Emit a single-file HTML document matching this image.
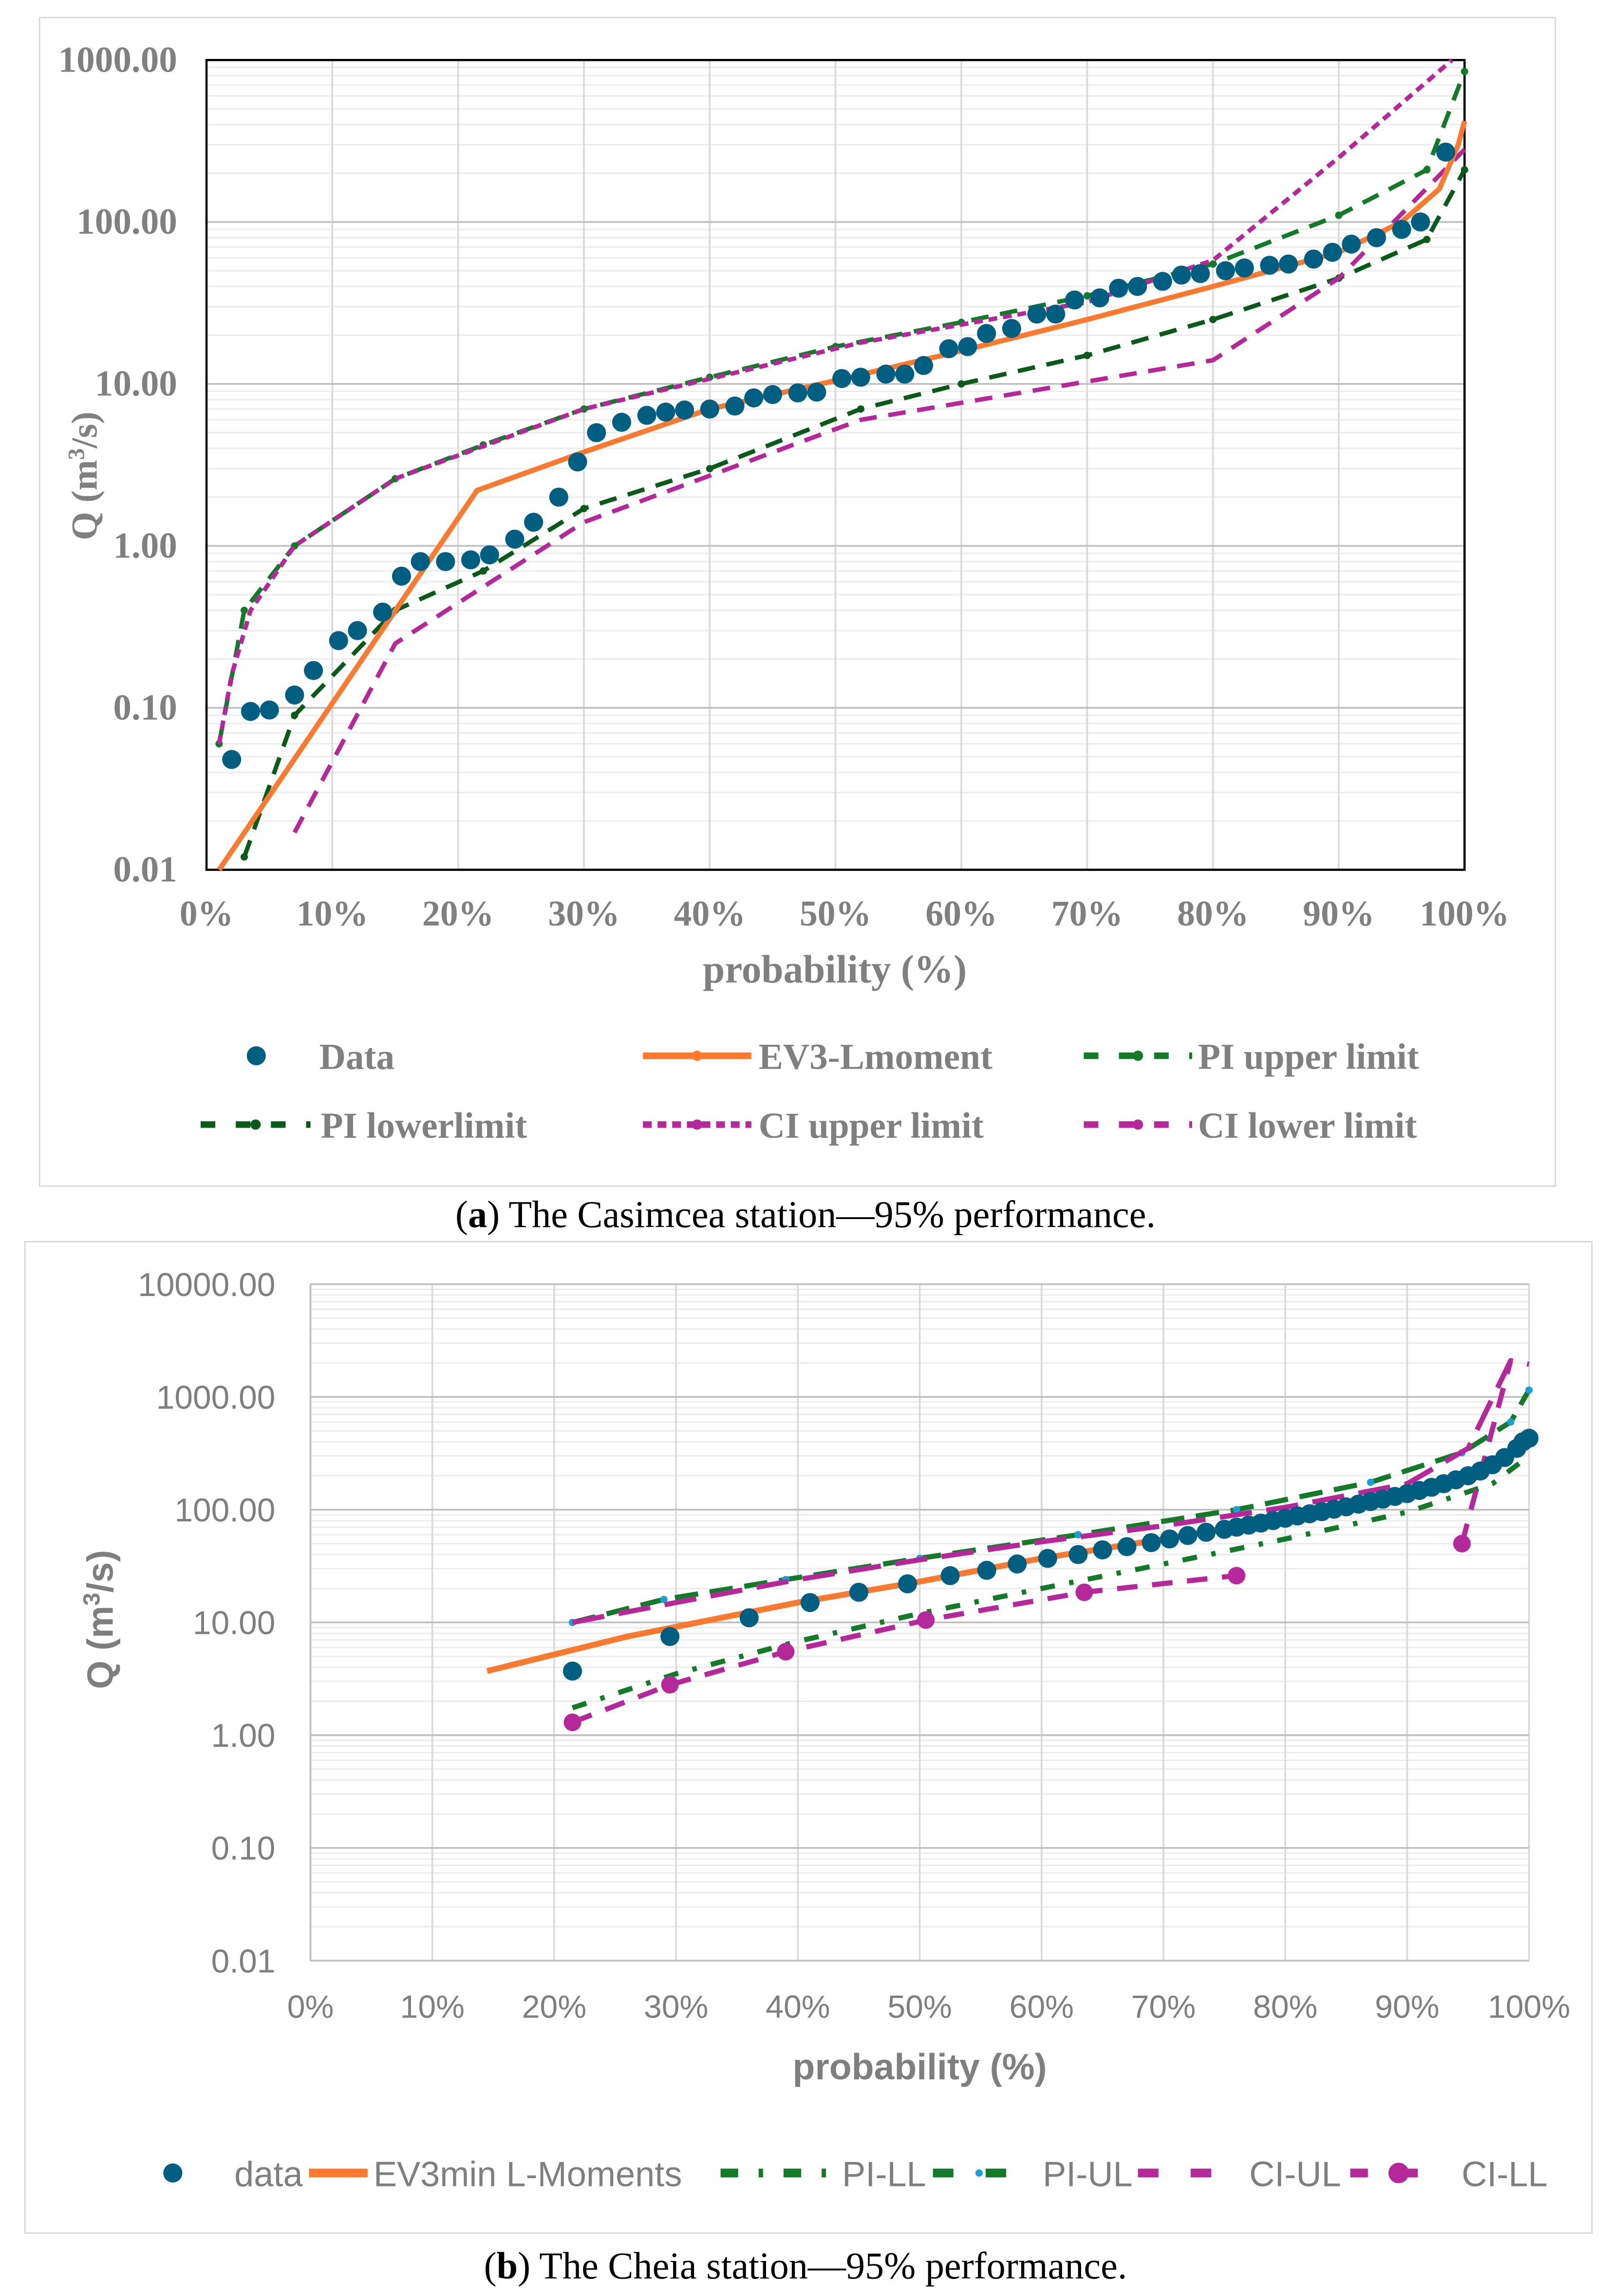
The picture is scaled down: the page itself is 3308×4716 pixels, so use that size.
<!DOCTYPE html>
<html><head><meta charset="utf-8"><style>
html,body{margin:0;padding:0;background:#fff;}
svg{display:block;}
</style></head><body>
<svg id="svg" xmlns="http://www.w3.org/2000/svg" width="3308" height="4716" viewBox="0 0 1100 1568" preserveAspectRatio="none">
<rect x="0" y="0" width="1100" height="1568" fill="#fff"/>
<rect x="27" y="12" width="1035" height="798" fill="none" stroke="#d9d9d9" stroke-width="1"/>
<rect x="17" y="848" width="1070" height="677" fill="none" stroke="#d9d9d9" stroke-width="1"/>
<g id="ga"></g>
<g id="gb"></g>
<text x="550" y="838" text-anchor="middle" font-family="Liberation Serif, serif" font-size="26" fill="#000">(<tspan font-weight="bold">a</tspan>) The Casimcea station—95% performance.</text>
<text x="550" y="1556" text-anchor="middle" font-family="Liberation Serif, serif" font-size="26" fill="#000">(<tspan font-weight="bold">b</tspan>) The Cheia station—95% performance.</text>
</svg>
<script>
// ---------- Chart A data ----------
const aDataP=[2,3.5,5,7,8.5,10.5,12,14,15.5,17,19,21,22.5,24.5,26,28,29.5,31,33,35,36.5,38,40,42,43.5,45,47,48.5,50.5,52,54,55.5,57,59,60.5,62,64,66,67.5,69,71,72.5,74,76,77.5,79,81,82.5,84.5,86,88,89.5,91,93,95,96.5,98.5];
const aDataQ=[0.048,0.095,0.097,0.12,0.17,0.26,0.3,0.39,0.65,0.8,0.8,0.82,0.88,1.1,1.4,2.0,3.3,5.0,5.8,6.4,6.7,6.9,7.0,7.3,8.2,8.6,8.8,8.9,10.8,11,11.5,11.5,13,16.5,17,20.5,22,27,27,33,34,39,40,43,47,48,50,52,54,55,59,65,73,80,90,100,270];
const aEvP=[1,21.5,30,40,50,60,70,80,90,95,98,99.5,100];
const aEvQ=[0.01,2.2,3.8,7,10.5,16,25,40,65,100,160,300,420];
const aPiuP=[1,3,7,15,22,30,40,50,60,70,80,90,97,100];
const aPiuQ=[0.06,0.4,1.0,2.6,4.2,7,11,17,24,35,55,110,210,850];
const aPilP=[3,7,15,22,30,40,52,60,70,80,90,97,100];
const aPilQ=[0.012,0.09,0.4,0.7,1.7,3,7,10,15,25,45,78,210];
const aCiuP=[1,2,3.5,7,15,30,52,70,80,90,99];
const aCiuQ=[0.06,0.16,0.4,1.0,2.6,7,18,32,58,250,1000];
const aCilP=[7,15,30,52,80,90,100];
const aCilQ=[0.017,0.25,1.4,6,14,45,280];
const aYTicks=["0.01","0.10","1.00","10.00","100.00","1000.00"];
const aXTicks=["0%","10%","20%","30%","40%","50%","60%","70%","80%","90%","100%"];
// ---------- Chart B data ----------
const bDataP=[21.5,29.5,36,41,45,49,52.5,55.5,58,60.5,63,65,67,69,70.5,72,73.5,75,76,77,78,79,80,81,82,83,84,85,86,87,88,89,90,91,92,93,94,95,96,97,98,99,99.5,100];
const bDataQ=[3.7,7.5,11,15,18.5,22,26,29,33,37,40,44,47,51,55,59,63,67,70,73,76,80,84,88,92,96,101,106,112,118,124,131,139,148,158,170,184,200,220,250,290,350,400,430];
const bEvP=[14.5,26,40,50,60,70,80,90,95,98,100];
const bEvQ=[3.7,7.5,15,23,37,55,85,140,200,300,400];
const bPillP=[21.5,30,40,50,60,70,80,90,97,100];
const bPillQ=[1.75,3.5,6.8,12,20,33,55,95,170,300];
const bPiulP=[21.5,29,39,50,63,76,87,94.5,98.5,100];
const bPiulQ=[10,16,24,37,60,100,175,320,600,1150];
const bCiuP=[21.5,30,40,50,60,70,80,90,95,98.5,100];
const bCiuQ=[10,15,24,36,52,72,105,170,350,2100,1950];
const bCilP=[21.5,29.5,39,50.5,63.5,76];
const bCilQ=[1.3,2.8,5.5,10.5,18.5,26];
const bCil2P=[94.5,98.5];
const bCil2Q=[50,2100];
const bYTicks=["0.01","0.10","1.00","10.00","100.00","1000.00","10000.00"];
const bXTicks=["0%","10%","20%","30%","40%","50%","60%","70%","80%","90%","100%"];

const NS="http://www.w3.org/2000/svg";
function mk(parent,tag,attrs){const e=document.createElementNS(NS,tag);for(const k in attrs)e.setAttribute(k,attrs[k]);parent.appendChild(e);return e;}

const A={x0:141,x1:1000,yTop:41,yBot:594,dMin:-2,dMax:3};
const B={x0:212,x1:1044,yTop:877,yBot:1339,dMin:-2,dMax:4};
function xs(C,p){return C.x0+(C.x1-C.x0)*p/100;}
function ys(C,q){return C.yBot-(C.yBot-C.yTop)*(Math.log10(q)-C.dMin)/(C.dMax-C.dMin);}

function grid(C,g){
  for(let d=C.dMin;d<C.dMax;d++){for(let m=2;m<=9;m++){const y=ys(C,m*Math.pow(10,d));
    const l=mk(g,'line',{x1:C.x0,x2:C.x1,y1:y,y2:y,stroke:'#ececec','stroke-width':1});
    
    }}
  for(let i=0;i<=10;i++){const x=xs(C,i*10);
    const l=mk(g,'line',{x1:x,x2:x,y1:C.yTop,y2:C.yBot,stroke:'#d9d9d9','stroke-width':1.2});
    
    }
  for(let d=C.dMin;d<=C.dMax;d++){const y=ys(C,Math.pow(10,d));
    const l=mk(g,'line',{x1:C.x0,x2:C.x1,y1:y,y2:y,stroke:'#bfbfbf','stroke-width':1.2});
    
    }
}
function path(C,g,P,Q,st,name){
  const d=P.map((p,i)=>(i?'L':'M')+xs(C,p).toFixed(1)+','+ys(C,Q[i]).toFixed(1)).join(' ');
  const e=mk(g,'path',Object.assign({d:d,fill:'none','stroke-linejoin':'round'},st));
  
  
  return e;
}
function dots(C,g,P,Q,r,fill,name){
  P.forEach((p,i)=>{const c=mk(g,'circle',{cx:xs(C,p),cy:ys(C,Q[i]),r:r,fill:fill});
    
    });
}
function txt(g,x,y,s,at,name){const t=mk(g,'text',Object.assign({x:x,y:y},at));t.textContent=s;
  
  return t;}

// ----- Chart A -----
const ga=document.getElementById('ga');
grid(A,ga);
mk(ga,'rect',{x:A.x0,y:A.yTop,width:A.x1-A.x0,height:A.yBot-A.yTop,fill:'none',stroke:'#000','stroke-width':1.5});
const serif={'font-family':'Liberation Serif, serif','font-weight':'bold',fill:'#808080'};
aYTicks.forEach((s,i)=>txt(ga,121,ys(A,Math.pow(10,A.dMin+i))+8,s,Object.assign({'text-anchor':'end','font-size':25},serif),'y-tick-label'));
aXTicks.forEach((s,i)=>txt(ga,xs(A,i*10),632,s,Object.assign({'text-anchor':'middle','font-size':24.5},serif),'x-tick-label'));
const ya=txt(ga,0,0,'',Object.assign({'text-anchor':'middle','font-size':25,transform:'translate(66,325) rotate(-90)'},serif),'y-axis-title');
ya.innerHTML='Q (m<tspan baseline-shift="super" font-size="16">3</tspan>/s)';
txt(ga,570,671,'probability (%)',Object.assign({'text-anchor':'middle','font-size':27},serif),'x-axis-title');
path(A,ga,aPilP,aPilQ,{stroke:'#0b5a1b','stroke-width':3,'stroke-dasharray':'12,8'},'pi-lower-line');
dots(A,ga,aPilP,aPilQ,2.5,'#0b5a1b','pi-lower-marker');
path(A,ga,aPiuP,aPiuQ,{stroke:'#137a2a','stroke-width':3,'stroke-dasharray':'12,8'},'pi-upper-line');
dots(A,ga,aPiuP,aPiuQ,2.5,'#137a2a','pi-upper-marker');
path(A,ga,aCiuP,aCiuQ,{stroke:'#b5289a','stroke-width':3,'stroke-dasharray':'6,4'},'ci-upper-line');
path(A,ga,aCilP,aCilQ,{stroke:'#b5289a','stroke-width':3,'stroke-dasharray':'12,8'},'ci-lower-line');
path(A,ga,aEvP,aEvQ,{stroke:'#fb7a30','stroke-width':3.5},'ev3-line');
dots(A,ga,aDataP,aDataQ,6.5,'#005f80','data-point');
// legend A: [lineStart, lineEnd, textX, y, label, kind]
const lgA=[
 [175,175,218,721,'Data','dot'],[439,513,518,721,'EV3-Lmoment','ev'],[740,814,818,721,'PI upper limit','piu'],
 [137,212,219,768,'PI lowerlimit','pil'],[439,513,518,768,'CI upper limit','ciu'],[740,814,818,768,'CI lower limit','cil']];
lgA.forEach(([x1,x2,tx,y,s,k])=>{
  const g=mk(ga,'g',{});
  
  
  if(k==='dot'){mk(g,'circle',{cx:x1,cy:y,r:6.5,fill:'#005f80'});}
  else{
  const col={ev:'#fb7a30',piu:'#137a2a',pil:'#0b5a1b',ciu:'#b5289a',cil:'#b5289a'}[k];
  const da={ev:'none',piu:'10,14',pil:'10,14',ciu:'6,4',cil:'10,14'}[k];
  mk(g,'line',{x1:x1,x2:x2,y1:y,y2:y,stroke:col,'stroke-width':4.5,'stroke-dasharray':da});
  mk(g,'circle',{cx:(x1+x2)/2,cy:y,r:3.5,fill:col});}
  txt(g,tx,y+9,s,Object.assign({'font-size':25},serif),'legend-label');
});

// ----- Chart B -----
const gb=document.getElementById('gb');
grid(B,gb);
mk(gb,'line',{x1:B.x0,x2:B.x0,y1:B.yTop,y2:B.yBot,stroke:'#bfbfbf','stroke-width':1.2});
const sans={'font-family':'Liberation Sans, sans-serif',fill:'#7f7f7f'};
bYTicks.forEach((s,i)=>txt(gb,188,ys(B,Math.pow(10,B.dMin+i))+8,s,Object.assign({'text-anchor':'end','font-size':22.5},sans),'y-tick-label'));
bXTicks.forEach((s,i)=>txt(gb,xs(B,i*10),1378,s,Object.assign({'text-anchor':'middle','font-size':22},sans),'x-tick-label'));
const yb=txt(gb,0,0,'',Object.assign({'text-anchor':'middle','font-size':25,'font-weight':'bold',transform:'translate(77,1106) rotate(-90)'},sans),'y-axis-title');
yb.innerHTML='Q (m<tspan baseline-shift="super" font-size="16">3</tspan>/s)';
txt(gb,628,1420,'probability (%)',Object.assign({'text-anchor':'middle','font-size':25,'font-weight':'bold'},sans),'x-axis-title');
path(B,gb,bPillP,bPillQ,{stroke:'#137a2a','stroke-width':3.5,'stroke-dasharray':'10,10,3,10'},'pi-ll-line');
path(B,gb,bPiulP,bPiulQ,{stroke:'#137a2a','stroke-width':3.5,'stroke-dasharray':'16,8'},'pi-ul-line');
dots(B,gb,bPiulP,bPiulQ,2.5,'#1aa0d8','pi-ul-marker');
path(B,gb,bCiuP,bCiuQ,{stroke:'#b5289a','stroke-width':3.5,'stroke-dasharray':'22,10'},'ci-ul-line');
path(B,gb,bCilP,bCilQ,{stroke:'#b5289a','stroke-width':3.5,'stroke-dasharray':'14,10'},'ci-ll-line');
path(B,gb,bCil2P,bCil2Q,{stroke:'#b5289a','stroke-width':3.5,'stroke-dasharray':'14,10'},'ci-ll-line');
dots(B,gb,bCilP,bCilQ,6,'#b5289a','ci-ll-marker');
dots(B,gb,bCil2P.slice(0,1),bCil2Q.slice(0,1),6,'#b5289a','ci-ll-marker');
path(B,gb,bEvP,bEvQ,{stroke:'#fb7a30','stroke-width':4},'ev3min-line');
dots(B,gb,bDataP,bDataQ,6.5,'#005f80','data-point');
// legend B: [lineStart, lineEnd, textX, label, kind]
const lgB=[[118,118,160,'data','dot'],[211,251,255,'EV3min L-Moments','ev'],[492,566,575,'PI-LL','pill'],[637,700,712,'PI-UL','piul'],[777,843,853,'CI-UL','ciul'],[922,988,998,'CI-LL','cill']];
const ly=1484;
lgB.forEach(([x1,x2,tx,s,k])=>{
  const g=mk(gb,'g',{});
  
  
  if(k==='dot'){mk(g,'circle',{cx:x1,cy:ly,r:6.5,fill:'#005f80'});}
  else{
  const col={ev:'#fb7a30',pill:'#137a2a',piul:'#137a2a',ciul:'#b5289a',cill:'#b5289a'}[k];
  const da={ev:'none',pill:'12,14,3,14',piul:'14,22',ciul:'14,22',cill:'12,22'}[k];
  mk(g,'line',{x1:x1,x2:x2,y1:ly,y2:ly,stroke:col,'stroke-width':6,'stroke-dasharray':da});
  if(k==='piul')mk(g,'circle',{cx:(x1+x2)/2,cy:ly,r:2.5,fill:'#1aa0d8'});
  if(k==='cill')mk(g,'circle',{cx:(x1+x2)/2,cy:ly,r:7,fill:'#b5289a'});}
  txt(g,tx,ly+9,s,Object.assign({'font-size':24},sans),'legend-label');
});
</script>
</body></html>
